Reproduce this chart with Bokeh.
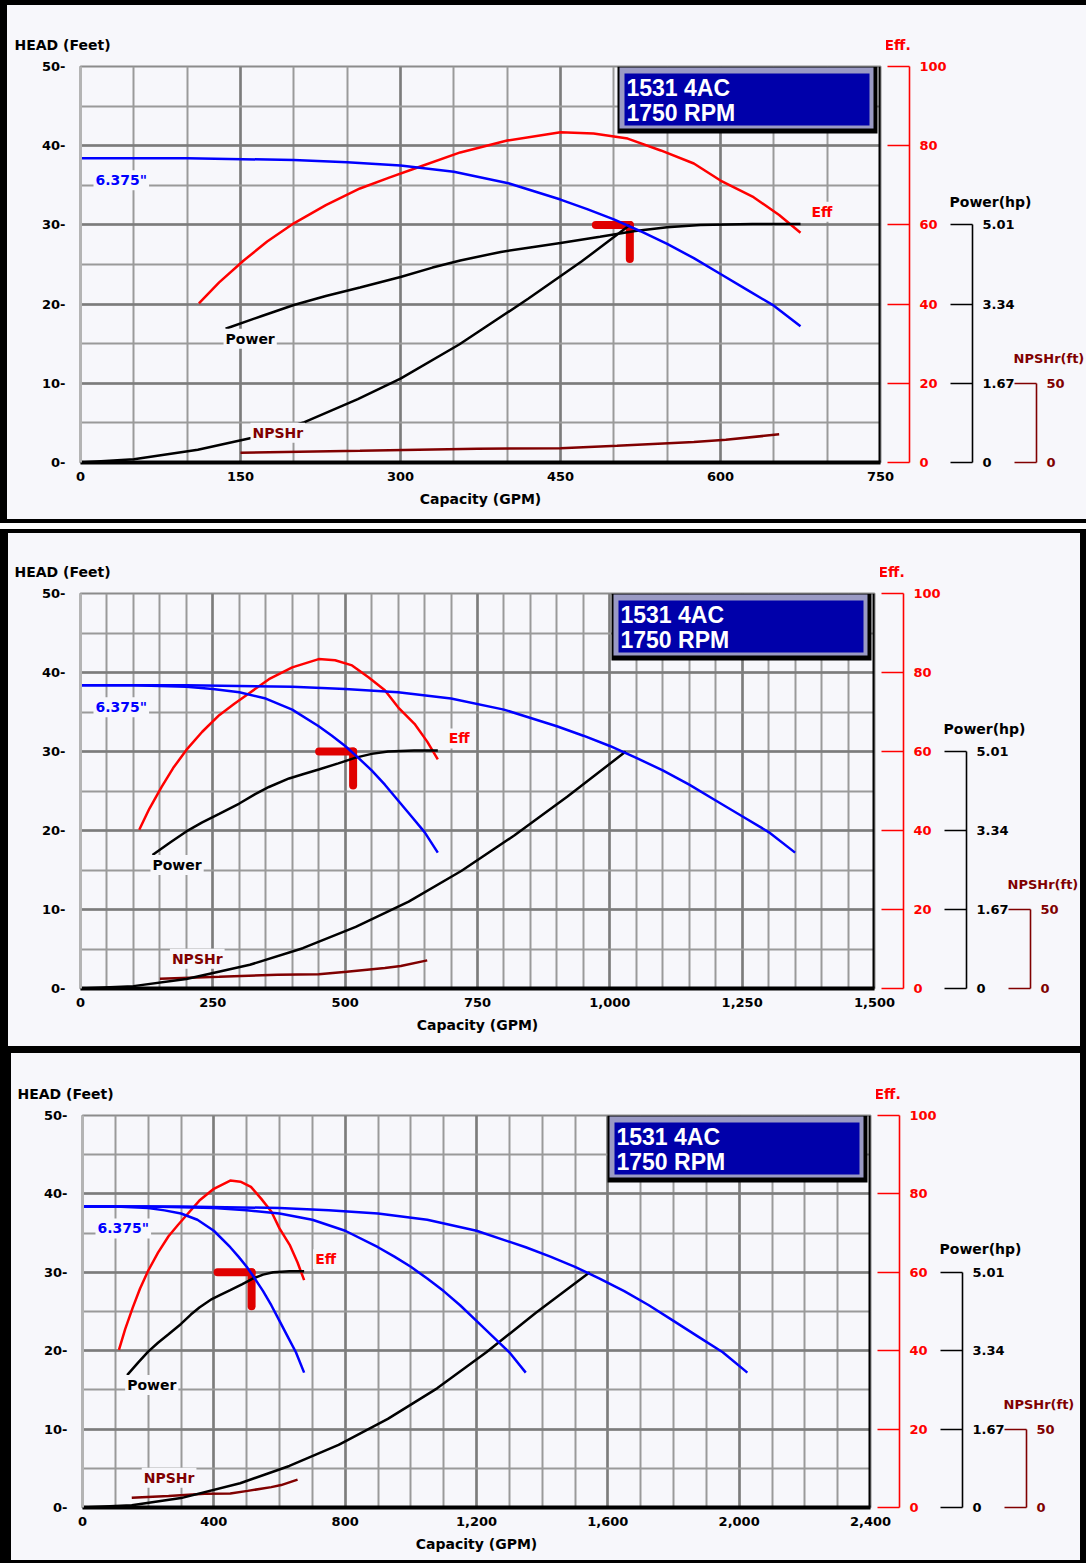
import math
from bokeh.plotting import figure
from bokeh.layouts import column, row
from bokeh.models import (Range1d, LinearAxis, FixedTicker, CustomJSTickFormatter,
                          NumeralTickFormatter, Label, Span, Title, Spacer)
from bokeh.embed import file_html
from bokeh.resources import INLINE

# ---------------- values ----------------
head_ticks = [0, 10, 20, 30, 40, 50]
head_minor = [0, 5, 10, 15, 20, 25, 30, 35, 40, 45, 50]
eff_ticks = [0, 20, 40, 60, 80, 100]
power_ticks = [0, 1.67, 3.34, 5.01]
npsh_ticks = [0, 50]

p1_x_ticks = [0, 150, 300, 450, 600, 750]
p1_x_minor = [0, 50, 100, 150, 200, 250, 300, 350, 400, 450, 500, 550, 600, 650, 700, 750]
p2_x_ticks = [0, 250, 500, 750, 1000, 1250, 1500]
p2_x_minor = [0, 50, 100, 150, 200, 250, 300, 350, 400, 450, 500, 550, 600, 650, 700, 750,
              800, 850, 900, 950, 1000, 1050, 1100, 1150, 1200, 1250, 1300, 1350, 1400, 1450, 1500]
p3_x_ticks = [0, 400, 800, 1200, 1600, 2000, 2400]
p3_x_minor = [0, 100, 200, 300, 400, 500, 600, 700, 800, 900, 1000, 1100, 1200, 1300, 1400, 1500,
              1600, 1700, 1800, 1900, 2000, 2100, 2200, 2300, 2400]

# pump head curve, 6.375" impeller: one pump, two and three pumps in parallel
pump1_q = [0, 100, 200, 250, 300, 350, 400, 450, 475, 500, 525, 550, 575, 600, 625, 650, 675]
pump2_q = [0, 200, 400, 500, 600, 700, 800, 900, 950, 1000, 1050, 1100, 1150, 1200, 1250, 1300, 1350]
pump3_q = [0, 300, 600, 750, 900, 1050, 1200, 1350, 1425, 1500, 1575, 1650, 1725, 1800, 1875,
           1950, 2025]
pump_head = [38.4, 38.4, 38.2, 37.9, 37.5, 36.7, 35.3, 33.2, 32.0, 30.7, 29.2, 27.6, 25.8, 23.8,
             21.8, 19.8, 17.2]

# efficiency (%)
eff_q = [111, 130, 153, 175, 200, 230, 262, 290, 316, 356, 400, 450, 481, 513, 544, 575, 600,
         631, 655, 675]
eff_pct = [40.2, 45.5, 51.0, 55.8, 60.4, 65.0, 69.2, 72.0, 74.5, 78.3, 81.3, 83.4, 83.1, 81.8,
           78.8, 75.5, 71.2, 67.0, 62.5, 58.0]

# power (hp)
power_q = [136, 170, 200, 230, 262, 300, 330, 356, 394, 420, 450, 487, 520, 550, 581, 630, 675]
power_hp = [2.82, 3.09, 3.32, 3.51, 3.69, 3.91, 4.11, 4.26, 4.44, 4.53, 4.63, 4.76, 4.88, 4.96,
            5.01, 5.03, 5.03]

# NPSHr (ft)
npsh_q = [150, 262, 372, 450, 503, 575, 605, 655]
npsh_ft = [6.2, 7.4, 8.7, 9.0, 10.6, 13.0, 14.3, 17.8]

# system curves (one per panel)
sys1_q = [0, 50, 110, 160, 210, 260, 300, 355, 420, 470, 515]
sys1_head = [0, 0.4, 1.6, 3.1, 5.1, 8.0, 10.6, 14.9, 20.7, 25.4, 30.0]
sys2_q = [0, 100, 200, 320, 420, 520, 620, 720, 820, 920, 1030]
sys2_head = [0, 0.3, 1.2, 3.0, 5.1, 7.8, 11.0, 14.9, 19.4, 24.3, 30.0]
sys3_q = [0, 150, 300, 480, 630, 780, 930, 1080, 1230, 1380, 1545]
sys3_head = [0, 0.3, 1.2, 3.1, 5.3, 8.0, 11.3, 15.2, 19.8, 24.8, 30.0]

# best efficiency point marker
bep_q = [515]
bep_head = [30]

title_lines = ["1531 4AC", "1750 RPM"]
impeller = '6.375"'

# ---------------- styling ----------------
BG = "#f7f7fb"
RED = "#ff0000"
MARKER = "#e00000"
MAROON = "#800000"
BLUE = "#0000ff"
FONT = "DejaVu Sans"
POWER_K = 5.01 / 30.0
TITLE_STANDOFF = 28


def txt(obj, prefix, color, size):
    setattr(obj, prefix + "text_font", FONT)
    setattr(obj, prefix + "text_font_style", "bold")
    setattr(obj, prefix + "text_font_size", size)
    setattr(obj, prefix + "text_color", color)


def label(p, text, x, y, dx, dy, color, align="left", bg=None, y_range_name="default", size="14px"):
    kw = dict(x=x, y=y, x_offset=dx, y_offset=dy, text=text, text_color=color,
              text_font=FONT, text_font_style="bold", text_font_size=size,
              text_align=align, text_baseline="middle", y_range_name=y_range_name)
    if bg:
        kw.update(background_fill_color=bg, padding=2)
    p.add_layout(Label(**kw))


def gap_axis(width):
    """invisible right-hand axis used only to space the secondary scales"""
    return LinearAxis(ticker=FixedTicker(ticks=[25]),
                      formatter=CustomJSTickFormatter(code="return ''"),
                      axis_line_color=None,
                      major_tick_line_color=None, minor_tick_line_color=None,
                      major_tick_out=width, major_tick_in=0, minor_tick_out=0, minor_tick_in=0,
                      major_label_standoff=0)


def scale_axis(name, ticks, color, bounds):
    ax = LinearAxis(y_range_name=name, ticker=FixedTicker(ticks=ticks),
                    formatter=CustomJSTickFormatter(code="return String(tick)"),
                    bounds=bounds,
                    axis_line_color=color, axis_line_width=1.6,
                    major_tick_line_color=color, major_tick_line_width=1.6,
                    major_tick_in=22, major_tick_out=0, minor_tick_out=0, minor_tick_in=0,
                    minor_tick_line_color=None, major_label_standoff=10)
    txt(ax, "major_label_", color, "13px")
    return ax


def panel(geom, x_end, x_ticks, x_minor, heads, sys_q, sys_h):
    rx, ry, rw, rh = geom["row"]
    fl, fr, ft, fb = geom["frame"]
    fw, fh = fr - fl, fb - ft
    ux = x_end / fw          # data units per pixel
    uy = 50.0 / fh

    # ---------- main chart ----------
    p = figure(width=rw, height=rh, x_range=Range1d(0, x_end), y_range=Range1d(0, 50),
               output_backend="svg", toolbar_location=None,
               min_border_left=fl - rx, min_border_right=rx + rw - fr,
               min_border_top=ft - ry, min_border_bottom=ry + rh - fb,
               background_fill_color=BG, border_fill_color=BG,
               outline_line_color="#8c8c8c", outline_line_width=2)
    p.extra_y_ranges = {"eff": Range1d(0, 100), "power": Range1d(0, 50 * POWER_K),
                        "npsh": Range1d(0, 250)}

    p.xgrid.ticker = FixedTicker(ticks=x_ticks, minor_ticks=x_minor)
    p.ygrid.ticker = FixedTicker(ticks=head_ticks, minor_ticks=head_minor)
    for g in (p.xgrid[0], p.ygrid[0]):
        g.grid_line_color = "#7c7c7c"
        g.grid_line_width = 2.5
        g.minor_grid_line_color = "#9a9a9a"
        g.minor_grid_line_width = 2

    xa = p.xaxis[0]
    xa.ticker = FixedTicker(ticks=x_ticks)
    xa.formatter = NumeralTickFormatter(format="0,0")
    xa.major_tick_line_color = None
    xa.minor_tick_line_color = None
    xa.major_tick_out = 0
    xa.major_tick_in = 0
    xa.axis_line_color = "#000000"
    xa.axis_line_width = 4
    xa.major_label_standoff = 9
    txt(xa, "major_label_", "#000000", "13px")
    xa.axis_label = "Capacity (GPM)"
    xa.axis_label_standoff = 7
    txt(xa, "axis_label_", "#000000", "14px")

    ya = p.yaxis[0]
    ya.ticker = FixedTicker(ticks=head_ticks)
    ya.formatter = CustomJSTickFormatter(code="return tick + '-'")
    ya.major_tick_line_color = None
    ya.minor_tick_line_color = None
    ya.major_tick_out = 0
    ya.major_tick_in = 0
    ya.axis_line_color = "#b4b4b4"
    ya.axis_line_width = 3
    ya.major_label_standoff = 15
    txt(ya, "major_label_", "#000000", "13px")

    p.add_layout(Span(location=x_end, dimension="height", line_color="#000000", line_width=4))

    # secondary scales, stacked outward from the frame
    p.add_layout(gap_axis(29), "right")
    p.add_layout(scale_axis("eff", eff_ticks, RED, (0, 100)), "right")
    p.add_layout(gap_axis(23), "right")
    p.add_layout(scale_axis("power", power_ticks, "#000000", (0, 5.01)), "right")
    p.add_layout(gap_axis(19), "right")
    p.add_layout(scale_axis("npsh", npsh_ticks, MAROON, (0, 50)), "right")

    p.add_layout(Title(text="HEAD (Feet)", align="left", offset=geom["head_x"] - fl,
                       standoff=TITLE_STANDOFF,
                       text_font=FONT, text_font_style="bold", text_font_size="14px",
                       text_color="#000000"), "above")

    # best efficiency marker (under the curves)
    for ang in (math.pi, -math.pi / 2):
        p.ray(x=bep_q, y=bep_head, length=34, length_units="screen", angle=ang,
              line_color=MARKER, line_width=8, line_cap="round")

    p.line(eff_q, eff_pct, y_range_name="eff", line_color=RED, line_width=2.5)
    p.line(npsh_q, npsh_ft, y_range_name="npsh", line_color=MAROON, line_width=2.5)
    p.line(sys_q, sys_h, line_color="#000000", line_width=2.5)
    p.line(power_q, power_hp, y_range_name="power", line_color="#000000", line_width=2.5)
    for q in heads:
        p.line(q, pump_head, line_color=BLUE, line_width=2.5)

    label(p, impeller, 0, pump_head[0], 13, -22, BLUE, bg=BG)
    label(p, "Power", power_q[0], power_hp[0], -2, -10, "#000000", bg=BG, y_range_name="power")
    label(p, "NPSHr", npsh_q[0], npsh_ft[0], 10, 20, MAROON, bg=BG, y_range_name="npsh")
    label(p, "Eff", eff_q[-1], eff_pct[-1], 9, 21, RED, bg=BG, y_range_name="eff")

    # title box in the top-right corner of the frame
    layers = [(263, 3, 0, 67, "#000000"),
              (261, 7, 1, 62, "#9a9ac4"),
              (256, 11, 7, 59, "#0000aa")]
    for l_px, r_px, t_px, b_px, c in layers:
        p.quad(left=[x_end - l_px * ux], right=[x_end - r_px * ux],
               top=[50 - t_px * uy], bottom=[50 - b_px * uy], fill_color=c, line_color=None)
    for i, t in enumerate(title_lines):
        p.add_layout(Label(x=x_end - 254 * ux, y=50, y_offset=-21 - 25 * i, text=t,
                           text_color="#ffffff", text_font="Liberation Sans",
                           text_font_style="bold", text_font_size="23px",
                           text_baseline="middle"))

    # ---------- transparent overlay carrying the scale titles ----------
    sw = rx + rw - (fr + 6)
    s = figure(width=sw, height=rh, x_range=Range1d(6, 6 + sw), y_range=Range1d(0, 50),
               output_backend="svg", toolbar_location=None,
               x_axis_location=None, y_axis_location=None,
               min_border=0, min_border_left=0, min_border_right=0,
               min_border_top=ft - ry, min_border_bottom=ry + rh - fb,
               background_fill_color=None, border_fill_color=None, outline_line_color=None,
               margin=(0, 0, 0, -sw))
    s.xgrid.visible = False
    s.ygrid.visible = False
    s.extra_y_ranges = {"power": Range1d(0, 50 * POWER_K), "npsh": Range1d(0, 250)}
    s.add_layout(Title(text="Eff.", align="left", offset=-2, standoff=TITLE_STANDOFF,
                       text_font=FONT, text_font_style="bold", text_font_size="14px",
                       text_color=RED), "above")
    label(s, "Power(hp)", 91, 5.01, -22, 23, "#000000", y_range_name="power")
    label(s, "NPSHr(ft)", 155, 50, -22, 25, MAROON, y_range_name="npsh", size="13px")

    return row(p, s, spacing=0, styles={"background-color": BG})


G1 = {"row": (7, 5, 1079, 514), "frame": (80, 880, 66, 462), "head_x": 14}
G2 = {"row": (8, 533, 1072, 513), "frame": (80, 874, 593, 988), "head_x": 14}
G3 = {"row": (11, 1053, 1069, 507), "frame": (82, 870, 1115, 1507), "head_x": 17}

r1 = panel(G1, 750, p1_x_ticks, p1_x_minor, [pump1_q], sys1_q, sys1_head)
r2 = panel(G2, 1500, p2_x_ticks, p2_x_minor, [pump1_q, pump2_q], sys2_q, sys2_head)
r3 = panel(G3, 2400, p3_x_ticks, p3_x_minor, [pump1_q, pump2_q, pump3_q], sys3_q, sys3_head)
r1.margin = (5, 0, 0, 7)
r2.margin = (0, 6, 0, 8)
r3.margin = (7, 6, 3, 11)
strip = Spacer(width=1086, height=6, margin=(4, 0, 4, 0), styles={"background-color": "#ffffff"})

layout = column(r1, strip, r2, r3, spacing=0, styles={"background-color": "#000000"})
open("out.html", "w").write(file_html(layout, INLINE, title="1531 4AC pump curves"))
